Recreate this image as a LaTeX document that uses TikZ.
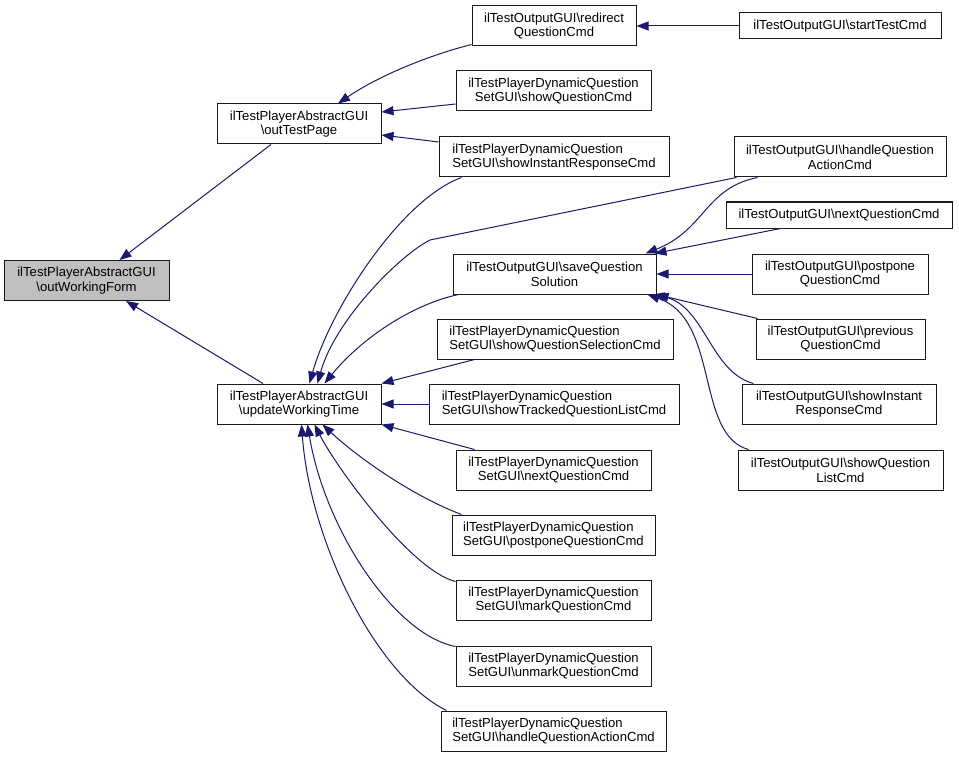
\documentclass[tikz,border=0pt]{standalone}
\usepackage{fontspec}
\setmainfont{Liberation Sans}
\usetikzlibrary{arrows.meta}
\definecolor{navy}{HTML}{191970}
\definecolor{gfill}{HTML}{BFBFBF}
\definecolor{bord}{HTML}{1A1A1A}
\newcommand{\BkS}{\textbackslash}
\begin{document}
\begin{tikzpicture}[x=1pt,y=-1pt,
  box/.style={draw=bord, line width=1pt, fill=white, inner xsep=4pt, inner ysep=0pt,
    minimum height=40pt, align=center, font=\fontsize{13.1}{14.7}\selectfont},
  lbox/.style={box, align=left},
  sbox/.style={box, minimum height=26pt},
  edge/.style={draw=navy, line width=1pt, >={Triangle[length=12pt,width=9pt]}, <-}]
\fill[white] (0,0) rectangle (959,757);
\useasboundingbox (0,0) rectangle (959,757);

% left column
\node[box, fill=gfill, minimum width=165pt] (owf) at (86.5,280.5) {ilTestPlayerAbstractGUI\\\BkS outWorkingForm};
\node[box, minimum width=164pt] (otp) at (299,124) {ilTestPlayerAbstractGUI\\\BkS outTestPage};
\node[box, minimum width=164pt] (uwt) at (299,404) {ilTestPlayerAbstractGUI\\\BkS updateWorkingTime};

% middle column
\node[box, minimum width=164pt] (redir) at (554,26) {ilTestOutputGUI\BkS redirect\\QuestionCmd};
\node[box, minimum width=195pt] (dsq) at (553.5,91) {ilTestPlayerDynamicQuestion\\SetGUI\BkS showQuestionCmd};
\node[lbox, minimum width=230pt] (dsir) at (554,157) {ilTestPlayerDynamicQuestion\\SetGUI\BkS showInstantResponseCmd};
\node[box, minimum width=203pt] (osqs) at (554.5,274) {ilTestOutputGUI\BkS saveQuestion\\Solution};
\node[lbox, minimum width=236pt] (dsqs) at (555,339) {ilTestPlayerDynamicQuestion\\SetGUI\BkS showQuestionSelectionCmd};
\node[lbox, minimum width=250pt] (dstq) at (554,404) {ilTestPlayerDynamicQuestion\\SetGUI\BkS showTrackedQuestionListCmd};
\node[box, minimum width=195pt] (dnq) at (553.5,470) {ilTestPlayerDynamicQuestion\\SetGUI\BkS nextQuestionCmd};
\node[lbox, minimum width=203pt] (dpq) at (553.5,535) {ilTestPlayerDynamicQuestion\\SetGUI\BkS postponeQuestionCmd};
\node[box, minimum width=195pt] (dmq) at (553.5,600) {ilTestPlayerDynamicQuestion\\SetGUI\BkS markQuestionCmd};
\node[box, minimum width=195pt] (dumq) at (553.5,666) {ilTestPlayerDynamicQuestion\\SetGUI\BkS unmarkQuestionCmd};
\node[lbox, minimum width=225pt] (dhqa) at (553.5,731) {ilTestPlayerDynamicQuestion\\SetGUI\BkS handleQuestionActionCmd};

% right column
\node[sbox, minimum width=202pt] (start) at (840,26) {ilTestOutputGUI\BkS startTestCmd};
\node[box, minimum width=212pt] (ohqa) at (840,157) {ilTestOutputGUI\BkS handleQuestion\\ActionCmd};
\node[sbox, minimum width=226pt] (onq) at (839,215) {ilTestOutputGUI\BkS nextQuestionCmd};
\node[box, minimum width=176pt] (opp) at (840,274) {ilTestOutputGUI\BkS postpone\\QuestionCmd};
\node[box, minimum width=169pt] (oprev) at (840.5,339) {ilTestOutputGUI\BkS previous\\QuestionCmd};
\node[box, minimum width=194pt] (osir) at (839,404) {ilTestOutputGUI\BkS showInstant\\ResponseCmd};
\node[box, minimum width=205pt] (osql) at (840.5,470) {ilTestOutputGUI\BkS showQuestion\\ListCmd};

% edges into outWorkingForm
\draw[edge] ([xshift=33pt]owf.north) -- ([xshift=-28pt]otp.south);
\draw[edge] ([xshift=39.5pt]owf.south) -- ([xshift=-36pt]uwt.north);

% edges into outTestPage
\draw[edge] ([xshift=39pt]otp.north) .. controls (380,75) and (430,55) .. ([yshift=2pt]redir.south west);
\draw[edge] ([yshift=12pt]otp.east) -- ([yshift=-13pt]dsq.west);
\draw[edge] ([yshift=-11pt]otp.east) -- ([yshift=15pt]dsir.west);

% edge into redirect
\draw[edge] (redir.east) -- (start.west);

% edges into updateWorkingTime
\draw[edge] ([xshift=93pt]uwt.north west) .. controls (330,310) and (400,200) .. ([xshift=23pt]dsir.south west);
\coordinate (bend) at (430,240);
\draw[edge] ([xshift=101pt]uwt.north west) .. controls (335,320) and (400,255) .. (bend) -- ([xshift=3pt]ohqa.south west);
\draw[edge] ([xshift=108pt]uwt.north west) .. controls (360,340) and (410,305) .. ([xshift=6pt]osqs.south west);
\draw[edge] (uwt.north east) -- ([xshift=38pt]dsqs.south west);
\draw[edge] (uwt.east) -- (dstq.west);
\draw[edge] (uwt.south east) -- ([xshift=19pt]dnq.north west);
\draw[edge] ([xshift=106pt]uwt.south west) .. controls (355,455) and (410,495) .. ([xshift=10pt]dpq.north west);
\draw[edge] ([xshift=98pt]uwt.south west) .. controls (335,465) and (410,570) .. ([yshift=-2pt]dmq.north west);
\draw[edge] ([xshift=91pt]uwt.south west) .. controls (325,530) and (395,635) .. ([yshift=-1pt]dumq.north west);
\draw[edge] ([xshift=85pt]uwt.south west) .. controls (310,540) and (375,675) .. ([xshift=6pt]dhqa.north west);

% edges into saveQuestionSolution
\draw[edge] ([xshift=193pt]osqs.north west) .. controls (705,230) and (705,188) .. ([xshift=24pt]ohqa.south west);
\draw[edge] ([xshift=-2pt]osqs.north east) -- ([xshift=55pt]onq.south west);
\draw[edge] (osqs.east) -- (opp.west);
\draw[edge] (osqs.south east) -- ([xshift=2pt]oprev.north west);
\draw[edge] ([xshift=-4pt]osqs.south east) .. controls (705,305) and (710,372) .. ([xshift=12pt]osir.north west);
\draw[edge] ([xshift=-9pt]osqs.south east) .. controls (720,320) and (695,435) .. ([xshift=11pt]osql.north west);
\end{tikzpicture}
\end{document}
